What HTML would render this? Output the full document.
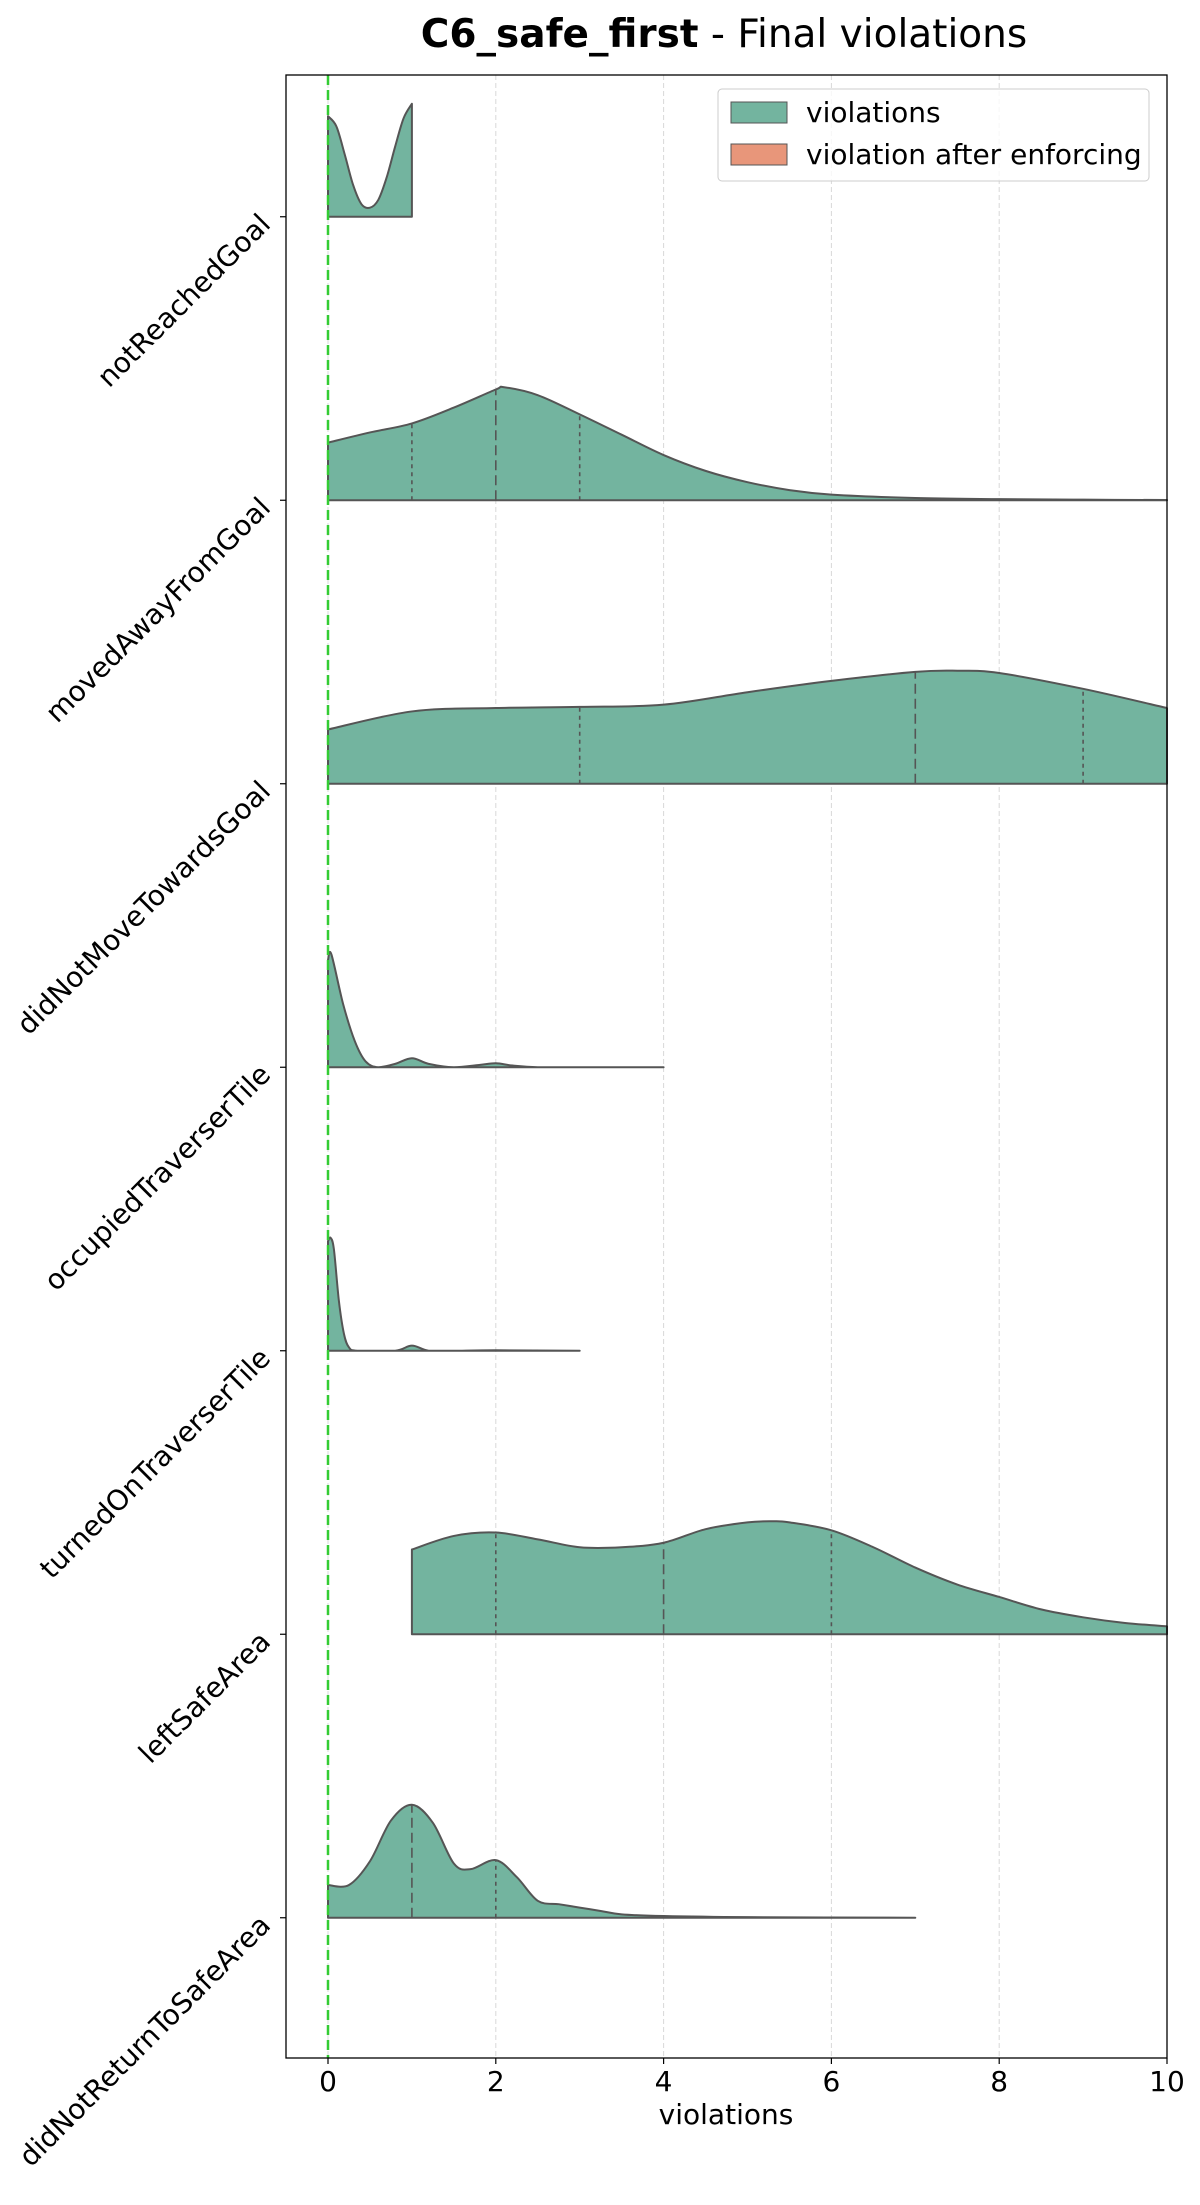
<!DOCTYPE html>
<html><head><meta charset="utf-8"><style>
html,body{margin:0;padding:0;background:#fff;}
svg text{font-family:"DejaVu Sans","Liberation Sans",sans-serif;}
</style></head><body>
<svg id="chart" width="1200" height="2200" xmlns="http://www.w3.org/2000/svg">
<text x="724" y="47" text-anchor="middle" font-size="39" fill="#000"><tspan font-weight="bold">C6_safe_first</tspan> - Final violations</text>
<g id="grid"></g>
<g id="violins"></g>
<line x1="328" y1="75" x2="328" y2="2058" stroke="#33cc33" stroke-width="2.5" stroke-dasharray="10,5"/>
<rect x="286" y="75" width="881" height="1983" fill="none" stroke="#000" stroke-width="1.3"/>
<g id="axes"></g>
<text x="726" y="2124" text-anchor="middle" font-size="28">violations</text>
<g>
<rect x="718" y="89" width="431" height="92" rx="4" fill="#fff" fill-opacity="0.8" stroke="#ccc"/>
<rect x="731" y="102" width="56" height="21" fill="#73b49f" stroke="#555"/>
<text x="806" y="122" font-size="28">violations</text>
<rect x="731" y="144" width="56" height="21" fill="#e8967a" stroke="#555"/>
<text x="806" y="164" font-size="28">violation after enforcing</text>
</g>
</svg>
<script>
const categories = ["notReachedGoal","movedAwayFromGoal","didNotMoveTowardsGoal","occupiedTraverserTile","turnedOnTraverserTile","leftSafeArea","didNotReturnToSafeArea"];
const xTicks = [0,2,4,6,8,10];
const densX0 = [0,0.1,0.2,0.3,0.4,0.5,0.6,0.7,0.8,0.9,1.0];
const densY0 = [0.89,0.8,0.55,0.28,0.11,0.08,0.15,0.35,0.62,0.87,1.0];
const densX1 = [0,0.5,1,1.5,2,2.1,2.5,3,3.5,4,4.5,5,5.5,6,7,8,9,10];
const densY1 = [0.51,0.6,0.68,0.82,0.98,1.0,0.93,0.76,0.58,0.4,0.26,0.16,0.09,0.05,0.02,0.01,0.005,0.002];
const densX2 = [0,1,2,3,4,5,6,7,7.5,8,9,10];
const densY2 = [0.48,0.64,0.67,0.68,0.7,0.81,0.91,0.99,1.0,0.98,0.84,0.67];
const densX3 = [0,0.04,0.18,0.32,0.45,0.6,0.8,1,1.2,1.5,1.8,2,2.2,2.5,3,4];
const densY3 = [0.95,1.0,0.56,0.23,0.05,0.0,0.03,0.08,0.03,0.0,0.02,0.035,0.015,0.0,0.0,0.0];
const densX4 = [0,0.03,0.07,0.13,0.19,0.25,0.35,0.8,1,1.2,1.5,2,3];
const densY4 = [0.97,1.0,0.9,0.44,0.15,0.03,0.0,0.0,0.045,0.0,0.0,0.004,0.0];
const densX5 = [1,1.5,2,2.5,3,3.5,4,4.5,5,5.3,5.5,6,6.5,7,7.5,8,8.5,9,9.5,10];
const densY5 = [0.75,0.87,0.9,0.84,0.77,0.77,0.81,0.93,0.99,1.0,0.99,0.92,0.77,0.59,0.44,0.33,0.22,0.15,0.1,0.07];
const densX6 = [0,0.25,0.5,0.75,1,1.25,1.5,1.7,2,2.25,2.5,2.75,3,3.25,3.5,4,5,7];
const densY6 = [0.29,0.29,0.5,0.86,1.0,0.84,0.48,0.43,0.51,0.36,0.15,0.12,0.09,0.06,0.03,0.015,0.005,0];
const medians = [null,2,7,null,null,4,1];
const quartiles = [[],[1,3],[3,9],[],[],[2,6],[2]];

const densX = [densX0,densX1,densX2,densX3,densX4,densX5,densX6];
const densY = [densY0,densY1,densY2,densY3,densY4,densY5,densY6];

const NS = "http://www.w3.org/2000/svg";
const X0 = 328, UNIT = 83.9, TOP = 75, BAND = 283.5, HMAX = 113;
function xs(v){ return X0 + v*UNIT; }
function ys(i){ return TOP + BAND*(i+0.5); }
function mk(tag, attrs, parent){ const e=document.createElementNS(NS,tag); for(const k in attrs) e.setAttribute(k,attrs[k]); parent.appendChild(e); return e; }
function interp(xa, ya, v){
  for(let k=0;k<xa.length-1;k++){ if(v>=xa[k]&&v<=xa[k+1]){ const t=(v-xa[k])/(xa[k+1]-xa[k]); return ya[k]+t*(ya[k+1]-ya[k]); } }
  return 0;
}
const grid=document.getElementById('grid'), vg=document.getElementById('violins'), ax=document.getElementById('axes');
xTicks.forEach(t=>{
  const g=mk('line',{x1:xs(t),x2:xs(t),y1:TOP,y2:2058,stroke:'#d8d8d8','stroke-width':1,'stroke-dasharray':'5,3'},grid);
  
  
  const tk=mk('line',{x1:xs(t),x2:xs(t),y1:2058,y2:2064,stroke:'#000','stroke-width':1.2},ax);
  
  
  const tl=mk('text',{x:xs(t),y:2091,'text-anchor':'middle','font-size':28},ax);
  tl.textContent=t;
  
  
});
categories.forEach((c,i)=>{
  const base=ys(i);
  const xa=densX[i], ya=densY[i];
  const pts=xa.map((v,k)=>[xs(v), base-ya[k]*HMAX]);
  let d=`M${pts[0][0]},${base} L${pts[0][0]},${pts[0][1]}`;
  for(let k=0;k<pts.length-1;k++){
    const p0=pts[Math.max(0,k-1)],p1=pts[k],p2=pts[k+1],p3=pts[Math.min(pts.length-1,k+2)];
    let c1y=p1[1]+(p2[1]-p0[1])/6, c2y=p2[1]-(p3[1]-p1[1])/6;
    c1y=Math.min(c1y,base); c2y=Math.min(c2y,base);
    d+=` C${p1[0]+(p2[0]-p0[0])/6},${c1y} ${p2[0]-(p3[0]-p1[0])/6},${c2y} ${p2[0]},${p2[1]}`;
  }
  d+=` L${pts[pts.length-1][0]},${base} Z`;
  const p=mk('path',{d:d,fill:'#73b49f',stroke:'#555','stroke-width':2,'stroke-linejoin':'round'},vg);
  
  
  if(medians[i]!==null){
    const h=interp(xa,ya,medians[i])*HMAX;
    const m=mk('line',{x1:xs(medians[i]),x2:xs(medians[i]),y1:base,y2:base-h,stroke:'#555','stroke-width':1.6,'stroke-dasharray':'10,5'},vg);
    
    
  }
  quartiles[i].forEach(q=>{
    const h=interp(xa,ya,q)*HMAX;
    const l=mk('line',{x1:xs(q),x2:xs(q),y1:base,y2:base-h,stroke:'#555','stroke-width':1.6,'stroke-dasharray':'4,4'},vg);
    
    
  });
  const tk=mk('line',{x1:280,x2:286,y1:base,y2:base,stroke:'#000','stroke-width':1.2},ax);
  
  
  const tl=mk('text',{x:272,y:base+9,'text-anchor':'end','font-size':28,transform:`rotate(-45 272 ${base+9})`},ax);
  tl.textContent=c;
  
  
});
</script>
</body></html>
